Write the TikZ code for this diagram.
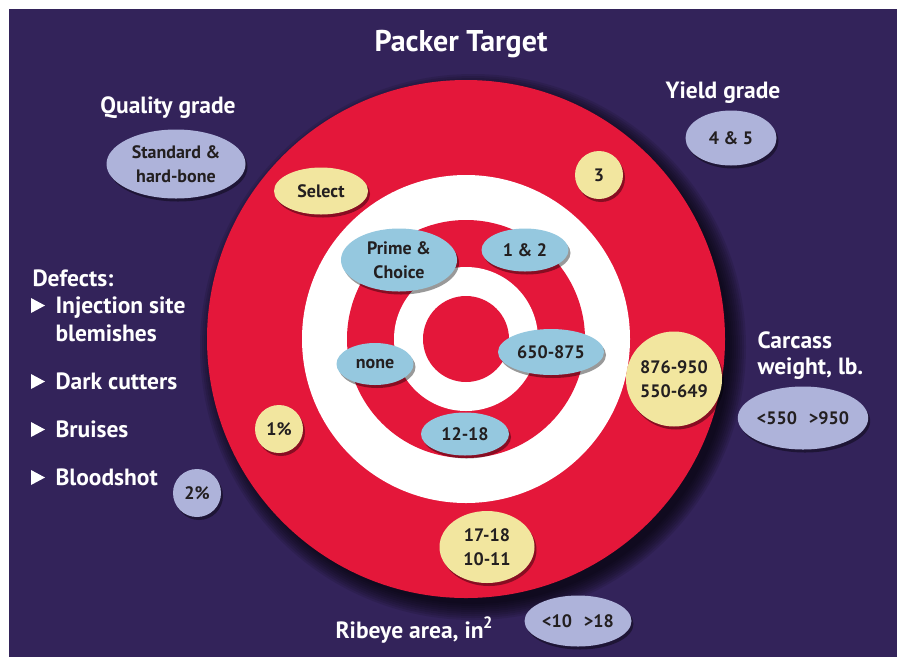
\documentclass[tikz,border=0pt]{standalone}
\usepackage{fontspec}
\setmainfont{PT Sans}
\usetikzlibrary{shapes.geometric}
\usetikzlibrary{shadows}

\definecolor{backdrop}{HTML}{33235A}
\definecolor{targetred}{HTML}{E4173A}
\definecolor{innerblue}{HTML}{95C8DF}
\definecolor{okyellow}{HTML}{F2E69F}
\definecolor{outlavender}{HTML}{AEB3DA}
\definecolor{ink}{HTML}{231F20}

\begin{document}
\begin{tikzpicture}[x=1pt,y=-1pt,
        grade/.style={ellipse,inner sep=0pt,text=ink,align=center,
            font=\bfseries\fontsize{18}{24}\selectfont,
            drop shadow={shadow xshift=2pt,shadow yshift=-3pt,opacity=.4,fill=black}},
        ingrade/.style={grade,fill=innerblue},
        okgrade/.style={grade,fill=okyellow},
        outgrade/.style={grade,fill=outlavender},
        heading/.style={text=white,font=\bfseries\fontsize{23.5}{28}\selectfont}]
    \useasboundingbox (0,0) rectangle (897,657);
    \fill[white] (0,0) rectangle (897,657);
    \fill[backdrop] (9,9) rectangle (897,657);

    % target rings, with a soft shadow under the outer one
    \foreach \r in {257,259,...,273}
        \fill[black,opacity=.1] (473,347) circle[radius=\r];
    \fill[targetred] (466,339) circle[radius=259];
    \fill[white] (466,339) circle[radius=164];
    \fill[targetred] (466,339) circle[radius=119];
    \fill[white] (466,339) circle[radius=72];
    \fill[targetred] (466,339) circle[radius=43];

    \node[heading,anchor=base,font=\bfseries\fontsize{30}{34}\selectfont] (title) at (461,51) {Packer Target};
    \node[heading,anchor=base] (quality) at (168,113) {Quality grade};
    \node[heading,anchor=base] (yield) at (723,98) {Yield grade};
    \node[heading,anchor=base west] (carcass) at (754,348) {Carcass};
    \node[heading,anchor=base west] (weight) at (754,374) {weight, lb.};
    \node[heading,anchor=base west] (ribeye) at (332,638) {Ribeye area, in\textsuperscript{\kern-.5pt2}};

    % defects list
    \node[heading,anchor=base west] (defects) at (29,286) {Defects:};
    \foreach \y/\txt in {313/Injection site,389/Dark cutters,437/Bruises,485/Bloodshot} {
        \fill[white] (31,\y-15) -- (45,\y-7.5) -- (31,\y) -- cycle;
        \node[heading,anchor=base west] at (52,\y) {\txt};
    }
    \node[heading,anchor=base west] (blemishes) at (52,341) {blemishes};

    % quality grade
    \node[outgrade,minimum width=139,minimum height=69] (standard) at (176,164) {Standard \&\\hard-bone};
    \node[okgrade,minimum width=94,minimum height=47] (select) at (321,191) {Select};
    \node[ingrade,minimum width=116,minimum height=63] (prime) at (399,260) {Prime \&\\Choice};
    % yield grade
    \node[ingrade,minimum width=87,minimum height=43] (yg12) at (525,250) {1 \& 2};
    \node[okgrade,minimum width=48,minimum height=48] (yg3) at (599,175) {3};
    \node[outgrade,minimum width=91,minimum height=55] (yg45) at (731,138) {4 \& 5};
    % defects
    \node[ingrade,minimum width=77,minimum height=42] (none) at (375,364) {none};
    \node[okgrade,minimum width=48,minimum height=48] (onepct) at (279,429) {1\%};
    \node[outgrade,minimum width=48,minimum height=48] (twopct) at (197,493) {2\%};
    % carcass weight
    \node[ingrade,minimum width=106,minimum height=46] (wtin) at (551,352) {650-875};
    \node[okgrade,minimum width=96,minimum height=95] (wtok) at (674,379) {876-950\\550-649};
    \node[outgrade,minimum width=129,minimum height=63] (wtout) at (803,418) {<550\hspace{12pt}>950};
    % ribeye area
    \node[ingrade,minimum width=88,minimum height=43] (rein) at (465,434) {12-18};
    \node[okgrade,minimum width=95,minimum height=72] (reok) at (487,547) {17-18\\10-11};
    \node[outgrade,minimum width=107,minimum height=51] (reout) at (578,621) {<10\hspace{12pt}>18};
\end{tikzpicture}
\end{document}
